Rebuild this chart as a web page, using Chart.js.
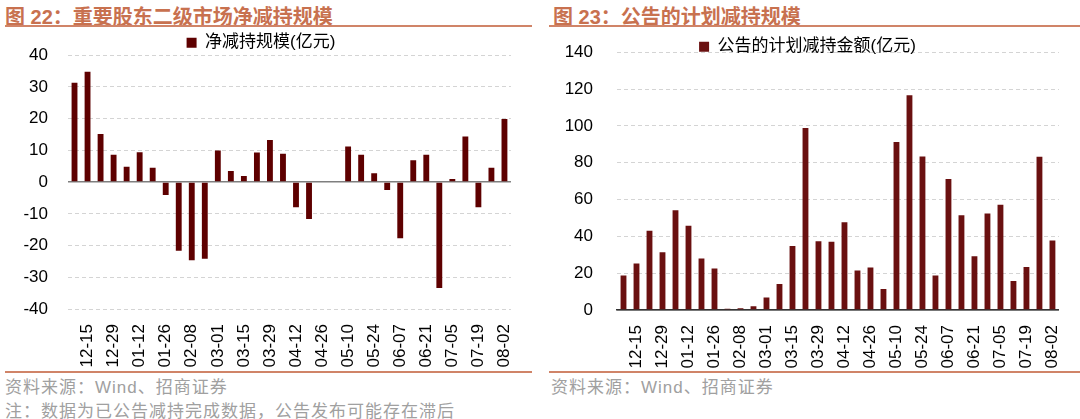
<!DOCTYPE html>
<html>
<head>
<meta charset="utf-8">
<script src="https://cdn.jsdelivr.net/npm/chart.js@4/dist/chart.umd.min.js"></script>
<style>
  body { margin: 0; background: #fff; width: 1080px; height: 419px; position: relative; overflow: hidden;
         font-family: "Liberation Sans", Arial, "Noto Sans CJK SC", sans-serif; }
  .title { position: absolute; top: 1px; font-size: 20px; font-weight: bold; color: #c8714f;
           font-family: "Liberation Sans", Arial, "Noto Sans CJK SC", sans-serif; white-space: nowrap; }
  .rule { position: absolute; height: 2px; background: #d08468; }
  .src { position: absolute; font-size: 17px; color: #a0a0a0; white-space: nowrap; letter-spacing: 1px;
         font-family: "Liberation Sans", Arial, "Noto Sans CJK SC", sans-serif; }
  .box { position: absolute; }
</style>
</head>
<body>
<div class="title" style="left:5px">图 22：重要股东二级市场净减持规模</div>
<div class="title" style="left:553px">图 23：公告的计划减持规模</div>
<div class="rule" style="left:5px; width:527px; top:25px"></div>
<div class="rule" style="left:549px; width:531px; top:25px"></div>

<div class="box" style="left:0; top:25px; width:532px; height:347px"><canvas id="netChart"></canvas></div>
<div class="box" style="left:545px; top:18px; width:535px; height:354px"><canvas id="planChart"></canvas></div>

<div class="rule" style="left:5px; width:527px; top:371px"></div>
<div class="rule" style="left:549px; width:531px; top:371px"></div>
<div class="src" style="left:5px; top:373px">资料来源：Wind、招商证券</div>
<div class="src" style="left:5px; top:397px">注：数据为已公告减持完成数据，公告发布可能存在滞后</div>
<div class="src" style="left:551px; top:373px">资料来源：Wind、招商证券</div>

<script>
// weekly dates, label shown on every other week
const weeks = ['12-08', '12-15', '12-22', '12-29', '01-05', '01-12', '01-19', '01-26', '02-02', '02-08',
  '02-22', '03-01', '03-08', '03-15', '03-22', '03-29', '04-05', '04-12', '04-19', '04-26',
  '05-03', '05-10', '05-17', '05-24', '05-31', '06-07', '06-14', '06-21', '06-28', '07-05',
  '07-12', '07-19', '07-26', '08-02'];

// 净减持规模(亿元)
const netReduction = [31.3, 34.8, 15.2, 8.6, 4.8, 9.4, 4.5, -4.1, -21.6, -24.6,
  -24.2, 10.0, 3.5, 1.9, 9.3, 13.3, 8.9, -7.9, -11.6, -0.2,
  0, 11.2, 8.6, 2.8, -2.5, -17.7, 6.9, 8.6, -33.4, 1.0,
  14.4, -7.9, 4.5, 19.9];

// 公告的计划减持金额(亿元)
const plannedReduction = [18.7, 25.2, 43.1, 31.4, 54.2, 45.8, 27.9, 22.5, 0.7, 0.9,
  2.0, 6.8, 14.1, 34.8, 98.9, 37.3, 37.1, 47.7, 21.4, 23.1,
  11.4, 91.2, 116.6, 83.4, 18.7, 71.2, 51.5, 29.2, 52.4, 57.1,
  15.7, 23.4, 83.2, 37.7];

const netTicks = [40, 30, 20, 10, 0, -10, -20, -30, -40];
const planTicks = [140, 120, 100, 80, 60, 40, 20, 0];

const tickFont = { family: '"Liberation Sans", Arial, sans-serif', size: 17 };
const cjkFont = { family: '"Liberation Sans", Arial, "Noto Sans CJK SC", sans-serif', size: 17 };

// nudge the legend down so it sits just above the top gridline
const legendNudge = {
  id: 'legendNudge',
  afterLayout(chart, args, opts) {
    if (chart.legend) {
      chart.legend.top += opts.dy;
      chart.legend.bottom += opts.dy;
    }
  }
};

function makeChart(id, label, values, ticks, color, showBottom, yWidth, xHeight, yPad, dy) {
  const ctx = document.getElementById(id).getContext('2d');
  return new Chart(ctx, {
    type: 'bar',
    data: {
      labels: weeks,
      datasets: [{
        label: label,
        data: values,
        backgroundColor: color,
        borderColor: color,
        borderWidth: 0,
        barPercentage: 0.45,
        categoryPercentage: 1
      }]
    },
    plugins: [legendNudge],
    options: {
      responsive: true,
      maintainAspectRatio: false,
      animation: false,
      layout: { padding: { top: 0, right: 10, left: 0, bottom: 0 } },
      plugins: {
        legendNudge: { dy: dy },
        legend: {
          display: true,
          labels: { boxWidth: 10, boxHeight: 10, font: cjkFont, color: '#000', padding: 3 }
        },
        tooltip: { enabled: false }
      },
      scales: {
        x: {
          grid: { display: false },
          border: { display: showBottom, color: '#333', width: 1.5 },
          afterFit: (axis) => { axis.height = xHeight; },
          ticks: {
            autoSkip: false,
            minRotation: 90,
            maxRotation: 90,
            padding: 7,
            color: '#000',
            font: tickFont,
            callback: (v, i) => (i % 2 === 1 ? weeks[i] : '')
          }
        },
        y: {
          min: ticks[ticks.length - 1],
          max: ticks[0],
          afterBuildTicks: (axis) => { axis.ticks = ticks.map(v => ({ value: v })); },
          afterFit: (axis) => { axis.width = yWidth; },
          grid: {
            drawTicks: false,
            color: (c) => (c.tick && c.tick.value === 0 ? '#7f7f7f' : '#d4d4d4'),
            lineWidth: (c) => (c.tick && c.tick.value === 0 ? 1.5 : 1)
          },
          border: {
            display: false,
            dash: (c) => (c.tick && c.tick.value === 0 ? [] : [4, 3])
          },
          ticks: { color: '#000', font: tickFont, padding: yPad }
        }
      }
    }
  });
}

makeChart('netChart', '净减持规模(亿元)', netReduction, netTicks, '#5e0000', false, 68, 63, 20, 6);
makeChart('planChart', '公告的计划减持金额(亿元)', plannedReduction, planTicks, '#6a1010', true, 72, 62, 24, 13);
</script>
</body>
</html>
